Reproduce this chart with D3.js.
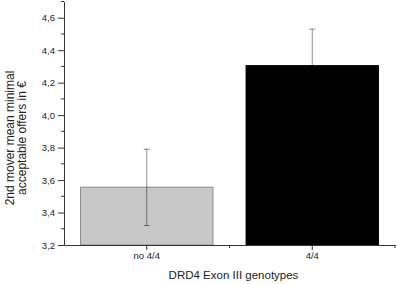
<!DOCTYPE html>
<html lang="en">
<head>
    <meta charset="UTF-8">
    <script src="https://d3js.org/d3.v7.min.js"></script>
    <style>
        body { margin: 0; background: #fff; }
        text { font-family: "Liberation Sans", Arial, sans-serif; fill: #222; }
    </style>
</head>
<body>
    <div id="chart"></div>
    <script>
        // Data
        const genotypes = ["no 4/4", "4/4"];
        const means = [3.556, 4.305];
        const errLow = [3.32, 4.08];
        const errHigh = [3.79, 4.53];
        const barColors = ["#c8c8c8", "#000000"];
        const yTicks = [3.2, 3.4, 3.6, 3.8, 4.0, 4.2, 4.4, 4.6];
        const yMinorTicks = [3.3, 3.5, 3.7, 3.9, 4.1, 4.3, 4.5, 4.7];
        const yTitle = ["2nd mover mean minimal", "acceptable offers in €"];

        const width = 397;
        const height = 284;
        const margin = { top: 1.5, right: 2, bottom: 39, left: 64 };
        const innerWidth = width - margin.left - margin.right;
        const innerHeight = height - margin.top - margin.bottom;

        const svg = d3.select("#chart")
            .append("svg")
            .attr("width", width)
            .attr("height", height);

        const g = svg.append("g")
            .attr("transform", `translate(${margin.left},${margin.top})`);

        // Scales
        const xScale = d3.scaleBand()
            .domain(genotypes)
            .range([0, innerWidth])
            .padding(0);

        const barPad = xScale.bandwidth() * 0.1;

        const yScale = d3.scaleLinear()
            .domain([3.2, 4.7])
            .range([innerHeight, 0]);

        // Bars
        g.selectAll(".bar")
            .data(genotypes)
            .join("rect")
            .attr("class", "bar")
            .attr("x", d => xScale(d) + barPad)
            .attr("y", (d, i) => yScale(means[i]))
            .attr("width", xScale.bandwidth() - 2 * barPad)
            .attr("height", (d, i) => yScale(3.2) - yScale(means[i]))
            .attr("fill", (d, i) => barColors[i])
            .attr("stroke", (d, i) => i === 0 ? "#8a8a8a" : "#000")
            .attr("stroke-width", 1);

        // Error bars (translucent black, so they vanish on the black bar)
        const err = g.selectAll(".err")
            .data(genotypes)
            .join("g")
            .attr("class", "err")
            .attr("stroke", "#000")
            .attr("stroke-opacity", 0.45)
            .attr("stroke-width", 1);

        err.append("line")
            .attr("x1", d => xScale(d) + xScale.bandwidth() / 2)
            .attr("x2", d => xScale(d) + xScale.bandwidth() / 2)
            .attr("y1", (d, i) => yScale(errLow[i]))
            .attr("y2", (d, i) => yScale(errHigh[i]));

        err.selectAll(".cap")
            .data((d, i) => [{ d, v: errLow[i] }, { d, v: errHigh[i] }])
            .join("line")
            .attr("class", "cap")
            .attr("x1", c => xScale(c.d) + xScale.bandwidth() / 2 - 3)
            .attr("x2", c => xScale(c.d) + xScale.bandwidth() / 2 + 3)
            .attr("y1", c => yScale(c.v))
            .attr("y2", c => yScale(c.v));

        // Y axis
        const yAxis = g.append("g")
            .call(d3.axisLeft(yScale)
                .tickValues(yTicks)
                .tickSize(6)
                .tickSizeOuter(0)
                .tickPadding(3)
                .tickFormat(d => d3.format(".1f")(d).replace(".", ",")));
        yAxis.select(".domain").attr("stroke", "#333");
        yAxis.selectAll(".tick line").attr("stroke", "#333");
        yAxis.selectAll("text").style("font-size", "9.5px").style("fill", "#222");

        g.append("g")
            .selectAll("line")
            .data(yMinorTicks)
            .join("line")
            .attr("x1", -3)
            .attr("x2", 0)
            .attr("y1", d => yScale(d))
            .attr("y2", d => yScale(d))
            .attr("stroke", "#333");

        // X axis
        const xAxis = g.append("g")
            .attr("transform", `translate(0,${innerHeight})`)
            .call(d3.axisBottom(xScale)
                .tickSize(5)
                .tickSizeOuter(0)
                .tickPadding(2));
        xAxis.select(".domain").attr("stroke", "#333");
        xAxis.selectAll(".tick line").attr("stroke", "#333");
        xAxis.selectAll("text").style("font-size", "9.5px").style("fill", "#222");

        g.append("g")
            .selectAll("line")
            .data(genotypes)
            .join("line")
            .attr("x1", d => xScale(d) + xScale.bandwidth())
            .attr("x2", d => xScale(d) + xScale.bandwidth())
            .attr("y1", innerHeight)
            .attr("y2", innerHeight + 3)
            .attr("stroke", "#333");

        // Axis titles
        svg.append("text")
            .attr("x", margin.left + innerWidth / 2 + 4)
            .attr("y", 279)
            .attr("text-anchor", "middle")
            .style("font-size", "11.5px")
            .text("DRD4 Exon III genotypes");

        svg.selectAll(".ytitle")
            .data(yTitle)
            .join("text")
            .attr("class", "ytitle")
            .attr("transform", (d, i) => `translate(${14 + i * 12},138) rotate(-90)`)
            .attr("text-anchor", "middle")
            .style("font-size", "12px")
            .text(d => d);
    </script>
</body>
</html>
